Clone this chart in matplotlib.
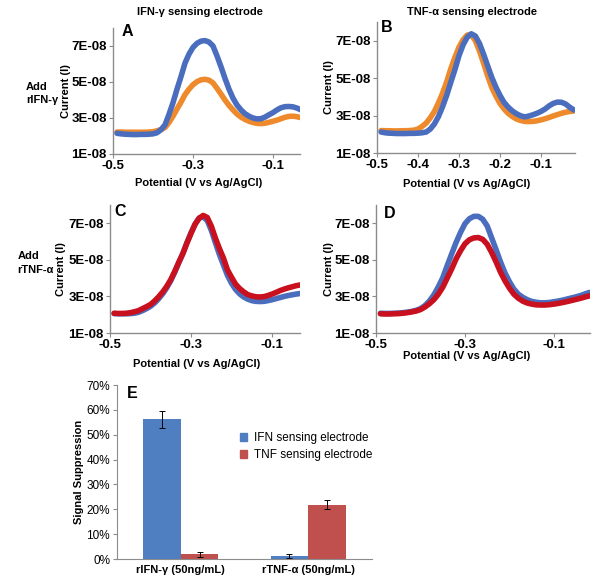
import matplotlib
matplotlib.use('Agg')
import matplotlib.pyplot as plt
from matplotlib.patches import Patch
from matplotlib.ticker import FuncFormatter, PercentFormatter

plt.rcParams['font.family'] = ['Liberation Sans', 'DejaVu Sans']
plt.rcParams['font.weight'] = 'bold'
plt.rcParams['axes.labelweight'] = 'bold'

pot_ac = [-0.49, -0.48, -0.47, -0.46, -0.45, -0.44, -0.43, -0.42, -0.41, -0.40,
          -0.39, -0.38, -0.37, -0.36, -0.35, -0.34, -0.33, -0.32, -0.31, -0.30,
          -0.29, -0.28, -0.27, -0.26, -0.25, -0.24, -0.23, -0.22, -0.21, -0.20,
          -0.19, -0.18, -0.17, -0.16, -0.15, -0.14, -0.13, -0.12, -0.11, -0.10,
          -0.09, -0.08, -0.07, -0.06, -0.05, -0.04, -0.03]
pot_bd = pot_ac + [-0.02]

# currents, in units of 1E-08 A
a_before = [2.15, 2.12, 2.10, 2.09, 2.08, 2.08, 2.09, 2.09, 2.10, 2.12,
            2.18, 2.35, 2.62, 3.20, 3.85, 4.60, 5.30, 6.05, 6.55, 6.92,
            7.15, 7.27, 7.30, 7.22, 7.00, 6.45, 5.85, 5.20, 4.60, 4.10,
            3.72, 3.45, 3.24, 3.10, 3.00, 2.95, 2.96, 3.05, 3.18, 3.30,
            3.45, 3.57, 3.63, 3.64, 3.62, 3.55, 3.45]
a_after = [2.22, 2.22, 2.21, 2.21, 2.21, 2.21, 2.21, 2.21, 2.22, 2.24,
           2.29, 2.36, 2.47, 2.75, 3.10, 3.50, 3.88, 4.30, 4.60, 4.85,
           5.02, 5.12, 5.15, 5.10, 4.95, 4.65, 4.33, 4.00, 3.70, 3.45,
           3.22, 3.05, 2.92, 2.82, 2.75, 2.70, 2.69, 2.71, 2.76, 2.82,
           2.88, 2.96, 3.04, 3.09, 3.10, 3.07, 3.02]
b_before = [2.12, 2.08, 2.06, 2.05, 2.04, 2.04, 2.04, 2.05, 2.05, 2.06,
            2.08, 2.12, 2.28, 2.55, 2.95, 3.48, 4.08, 4.78, 5.45, 6.20,
            6.78, 7.18, 7.37, 7.25, 6.85, 6.28, 5.65, 5.04, 4.52, 4.08,
            3.70, 3.45, 3.25, 3.10, 2.99, 2.93, 2.97, 3.04, 3.12, 3.22,
            3.35, 3.52, 3.65, 3.72, 3.71, 3.62, 3.45, 3.30]
b_after = [2.20, 2.19, 2.19, 2.18, 2.18, 2.19, 2.19, 2.20, 2.22, 2.28,
           2.42, 2.60, 2.88, 3.22, 3.68, 4.20, 4.80, 5.50, 6.10, 6.66,
           7.05, 7.30, 7.32, 7.00, 6.45, 5.80, 5.12, 4.50, 4.05, 3.65,
           3.35, 3.12, 2.95, 2.82, 2.74, 2.69, 2.68, 2.69, 2.72, 2.77,
           2.83, 2.90, 2.98, 3.05, 3.12, 3.18, 3.22, 3.25]
c_before = [2.06, 2.05, 2.05, 2.05, 2.06, 2.08, 2.13, 2.22, 2.33, 2.46,
            2.64, 2.87, 3.14, 3.47, 3.86, 4.33, 4.85, 5.36, 5.95, 6.48,
            6.95, 7.28, 7.35, 7.15, 6.62, 5.95, 5.30, 4.72, 4.15, 3.72,
            3.38, 3.14, 2.97, 2.85, 2.77, 2.73, 2.72, 2.73, 2.77, 2.82,
            2.88, 2.94, 3.00, 3.05, 3.09, 3.13, 3.16]
c_after = [2.08, 2.07, 2.07, 2.08, 2.11, 2.16, 2.22, 2.33, 2.44, 2.56,
           2.75, 2.98, 3.24, 3.55, 3.92, 4.38, 4.88, 5.35, 5.92, 6.45,
           6.95, 7.28, 7.43, 7.32, 6.85, 6.20, 5.62, 5.10, 4.45, 4.05,
           3.67, 3.43, 3.25, 3.10, 3.03, 2.98, 2.97, 2.99, 3.05, 3.13,
           3.22, 3.32, 3.40, 3.47, 3.53, 3.59, 3.63]
d_before = [2.08, 2.07, 2.07, 2.08, 2.09, 2.11, 2.14, 2.18, 2.24, 2.33,
            2.50, 2.75, 3.08, 3.52, 4.02, 4.68, 5.32, 5.95, 6.50, 6.98,
            7.25, 7.38, 7.38, 7.22, 6.85, 6.20, 5.55, 4.88, 4.28, 3.80,
            3.40, 3.12, 2.95, 2.82, 2.73, 2.68, 2.65, 2.65, 2.67, 2.71,
            2.75, 2.80, 2.86, 2.92, 2.98, 3.05, 3.14, 3.22]
d_after = [2.05, 2.04, 2.04, 2.05, 2.06, 2.08, 2.11, 2.15, 2.20, 2.28,
           2.42, 2.60, 2.82, 3.12, 3.50, 4.00, 4.50, 5.05, 5.50, 5.88,
           6.10, 6.20, 6.22, 6.12, 5.85, 5.40, 4.88, 4.32, 3.85, 3.45,
           3.12, 2.90, 2.74, 2.64, 2.58, 2.54, 2.53, 2.53, 2.55, 2.58,
           2.62, 2.67, 2.72, 2.78, 2.84, 2.90, 2.97, 3.03]

# panel E
groups = ['rIFN-\u03b3 (50ng/mL)', 'rTNF-\u03b1 (50ng/mL)']
ifn_supp = [56.2, 1.2]
ifn_err = [3.3, 0.7]
tnf_supp = [1.9, 21.8]
tnf_err = [1.0, 1.8]

BLUE = '#4A6DBE'
ORANGE = '#EE8A2C'
RED = '#C8101E'
GRAY = '#8C8C8C'
W, H = 600, 582


def box(l, t, r, b):
    return [l / W, 1 - b / H, (r - l) / W, (b - t) / H]


def fx(px):
    return px / W


def fy(py):
    return 1 - py / H


def cv_axes(ax, xmax, xticks, ylab_x, xlab_xy):
    ax.set_xlim(-0.5, xmax)
    ax.set_ylim(1e-8, 8e-8)
    ax.set_xticks(xticks)
    ax.set_xticklabels([f'{t:g}' for t in xticks])
    ax.set_yticks([1e-8, 3e-8, 5e-8, 7e-8])
    ax.yaxis.set_major_formatter(FuncFormatter(lambda v, p: f'{v:.0E}'))
    for s in ['top', 'right']:
        ax.spines[s].set_visible(False)
    for s in ['left', 'bottom']:
        ax.spines[s].set_color(GRAY)
        ax.spines[s].set_linewidth(1)
    ax.tick_params(direction='out', length=3, color=GRAY, labelsize=9.5, pad=1.5)
    ax.set_xlabel('Potential (V vs Ag/AgCl)', fontsize=8)
    ax.set_ylabel('Current (I)', fontsize=8)
    ax.yaxis.set_label_coords(ylab_x, 0.5)
    ax.xaxis.set_label_coords(*xlab_xy)


def cv(ax, pot, cur, color):
    ax.plot(pot, [c * 1e-8 for c in cur], color=color, lw=4,
            solid_capstyle='round', solid_joinstyle='round')


fig = plt.figure(figsize=(6, 5.82), dpi=100)

axA = fig.add_axes(box(113, 28, 300, 154))
cv(axA, pot_ac, a_after, ORANGE)
cv(axA, pot_ac, a_before, BLUE)
cv_axes(axA, -0.0325, [-0.5, -0.3, -0.1], -0.225, (0.46, -0.19))

axB = fig.add_axes(box(377, 22, 575, 153))
cv(axB, pot_bd, b_after, ORANGE)
cv(axB, pot_bd, b_before, BLUE)
cv_axes(axB, -0.017, [-0.5, -0.4, -0.3, -0.2, -0.1], -0.217, (0.455, -0.198))

axC = fig.add_axes(box(110, 205, 300, 333))
cv(axC, pot_ac, c_before, BLUE)
cv(axC, pot_ac, c_after, RED)
cv_axes(axC, -0.031, [-0.5, -0.3, -0.1], -0.232, (0.457, -0.203))

axD = fig.add_axes(box(376, 205, 590, 333))
cv(axD, pot_bd, d_before, BLUE)
cv(axD, pot_bd, d_after, RED)
cv_axes(axD, -0.019, [-0.5, -0.3, -0.1], -0.196, (0.425, -0.139))

# panel E bars
axE = fig.add_axes(box(117, 385, 372, 559))
w = 0.295
xs = [0, 1]
axE.bar([x - w / 2 for x in xs], ifn_supp, w, yerr=ifn_err, color='#4F7EC1',
        error_kw=dict(ecolor='black', elinewidth=0.7, capsize=2, capthick=0.7),
        label='IFN sensing electrode')
axE.bar([x + w / 2 for x in xs], tnf_supp, w, yerr=tnf_err, color='#C0504D',
        error_kw=dict(ecolor='black', elinewidth=0.7, capsize=2, capthick=0.7),
        label='TNF sensing electrode')
axE.set_xlim(-0.5, 1.5)
axE.set_ylim(0, 70)
axE.set_yticks(range(0, 71, 10))
axE.yaxis.set_major_formatter(PercentFormatter(decimals=0))
axE.set_xticks(xs)
axE.set_xticklabels(groups, fontsize=8)
for lbl in axE.get_yticklabels():
    lbl.set_fontweight('normal')
for s in ['top', 'right']:
    axE.spines[s].set_visible(False)
for s in ['left', 'bottom']:
    axE.spines[s].set_color(GRAY)
axE.tick_params(axis='y', direction='out', length=3, color=GRAY, labelsize=8.5, pad=2)
axE.tick_params(axis='x', length=0, pad=4)
axE.set_ylabel('Signal Suppression', fontsize=8)
axE.yaxis.set_label_coords(-0.129, 0.5)

handles = [Patch(color='#4F7EC1'), Patch(color='#C0504D')]
fig.legend(handles, ['IFN sensing electrode', 'TNF sensing electrode'],
           loc='upper left', bbox_to_anchor=(fx(240), fy(432)), frameon=False,
           prop={'size': 8.5, 'weight': 'normal'}, handlelength=0.6, handleheight=0.6,
           handletextpad=0.6, labelspacing=0.45, borderpad=0, borderaxespad=0)

# labels
fig.text(fx(200), fy(12), 'IFN-\u03b3 sensing electrode', ha='center', va='center', fontsize=8)
fig.text(fx(472), fy(12), 'TNF-\u03b1 sensing electrode', ha='center', va='center', fontsize=8)
fig.text(fx(37), fy(87), 'Add', ha='center', va='center', fontsize=8)
fig.text(fx(42), fy(100), 'rIFN-\u03b3', ha='center', va='center', fontsize=8)
fig.text(fx(29), fy(256), 'Add', ha='center', va='center', fontsize=8)
fig.text(fx(35), fy(270), 'rTNF-\u03b1', ha='center', va='center', fontsize=8)
for letter, (px, py) in {'A': (127, 32), 'B': (387, 27), 'C': (120, 211),
                         'D': (390, 213), 'E': (132, 393)}.items():
    fig.text(fx(px), fy(py), letter, ha='center', va='center', fontsize=11.5)

fig.savefig('out.png', dpi=100)
